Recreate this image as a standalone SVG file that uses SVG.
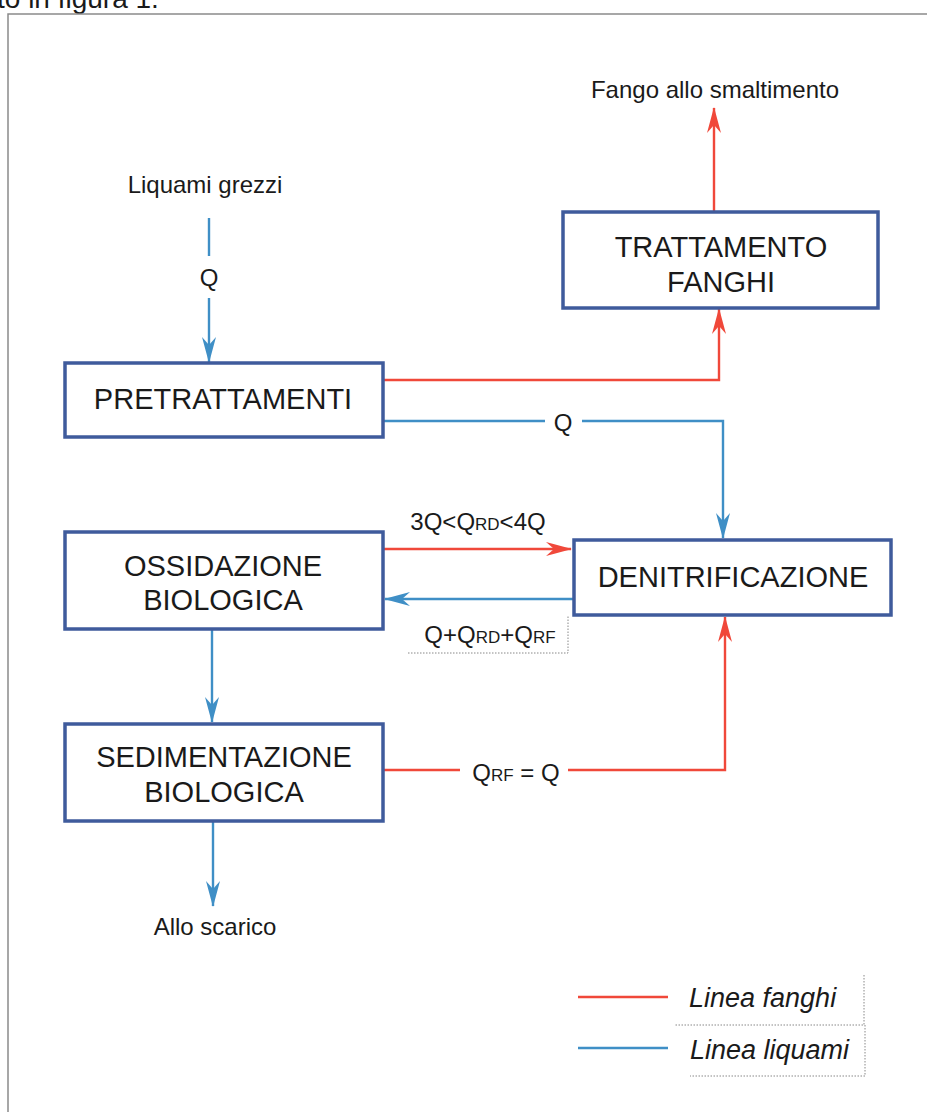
<svg xmlns="http://www.w3.org/2000/svg" width="927" height="1112" viewBox="0 0 927 1112">
<style>
text{font-family:"Liberation Sans",Arial,sans-serif;fill:#1a1a1a}
.box{fill:#fff;stroke:#3f5b9c;stroke-width:3.5}
.bt{font-size:29px;text-anchor:middle}
.lb{font-size:24px;text-anchor:middle}
.sub{font-size:17px}
.red{fill:none;stroke:#f0483a;stroke-width:2.4}
.blue{fill:none;stroke:#3f8fc6;stroke-width:2.4}
.dot{fill:none;stroke:#888;stroke-width:1;stroke-dasharray:1.5 1.5}
.leg{font-size:27px;font-style:italic}
</style>
<defs>
<marker id="ar" viewBox="0 0 26 14" refX="25" refY="7" markerWidth="26" markerHeight="14" markerUnits="userSpaceOnUse" orient="auto"><path d="M0,0 L26,7 L0,14 L8,7 z" fill="#f0483a"/></marker>
<marker id="ab" viewBox="0 0 26 14" refX="25" refY="7" markerWidth="26" markerHeight="14" markerUnits="userSpaceOnUse" orient="auto"><path d="M0,0 L26,7 L0,14 L8,7 z" fill="#3f8fc6"/></marker>
</defs>
<rect width="927" height="1112" fill="#fff"/>
<text x="-3" y="8" style="font-size:28px">to in figura 1.</text>
<path d="M8,1112 L8,14 L927,14" fill="none" stroke="#8a8a8a" stroke-width="1.5"/>

<g id="connectors">
<path class="blue" d="M209,218 L209,256"/>
<path class="blue" d="M209,298 L209,362" marker-end="url(#ab)"/>
<path class="red" d="M383,380 L719,380 L719,309" marker-end="url(#ar)"/>
<path class="red" d="M714,212 L714,108" marker-end="url(#ar)"/>
<path class="blue" d="M383,421 L545,421"/>
<path class="blue" d="M582,421 L723,421 L723,538" marker-end="url(#ab)"/>
<path class="red" d="M383,549 L571,549" marker-end="url(#ar)"/>
<path class="blue" d="M573,599 L385,599" marker-end="url(#ab)"/>
<path class="blue" d="M212,629 L212,722" marker-end="url(#ab)"/>
<path class="red" d="M383,770 L460,770"/>
<path class="red" d="M568,770 L725,770 L725,617" marker-end="url(#ar)"/>
<path class="blue" d="M213,822 L213,906" marker-end="url(#ab)"/>
<path class="dot" d="M408,653 L568,653 L568,615"/>
</g>

<g id="labels">
<text class="lb" x="205" y="193">Liquami grezzi</text>
<text class="lb" x="209" y="286">Q</text>
<text class="lb" x="715" y="98">Fango allo smaltimento</text>
<text class="lb" x="563" y="431">Q</text>
<text class="lb" x="478" y="530">3Q&lt;Q<tspan class="sub">RD</tspan>&lt;4Q</text>
<text class="lb" x="490" y="643">Q+Q<tspan class="sub">RD</tspan>+Q<tspan class="sub">RF</tspan></text>
<text class="lb" x="516" y="781">Q<tspan class="sub">RF</tspan> = Q</text>
<text class="lb" x="215" y="935">Allo scarico</text>
</g>

<g id="trattamento-fanghi">
<rect class="box" x="563" y="212" width="315" height="96"/>
<text class="bt" x="721" y="257">TRATTAMENTO</text>
<text class="bt" x="721" y="292">FANGHI</text>
</g>
<g id="pretrattamenti">
<rect class="box" x="65" y="363" width="318" height="74"/>
<text class="bt" x="223" y="409">PRETRATTAMENTI</text>
</g>
<g id="ossidazione">
<rect class="box" x="65" y="532" width="318" height="97"/>
<text class="bt" x="223" y="576">OSSIDAZIONE</text>
<text class="bt" x="223" y="610">BIOLOGICA</text>
</g>
<g id="denitrificazione">
<rect class="box" x="574" y="540" width="317" height="75"/>
<text class="bt" x="733" y="587">DENITRIFICAZIONE</text>
</g>
<g id="sedimentazione">
<rect class="box" x="65" y="724" width="318" height="97"/>
<text class="bt" x="224" y="767">SEDIMENTAZIONE</text>
<text class="bt" x="224" y="802">BIOLOGICA</text>
</g>

<g id="legend">
<path class="red" d="M578,997 L668,997"/>
<text class="leg" x="689" y="1007">Linea fanghi</text>
<path class="blue" d="M578,1048 L668,1048"/>
<text class="leg" x="690" y="1059">Linea liquami</text>
<path class="dot" d="M864,975 L864,1025 L675,1025 M865,1025 L865,1076 L690,1076"/>
</g>
</svg>
